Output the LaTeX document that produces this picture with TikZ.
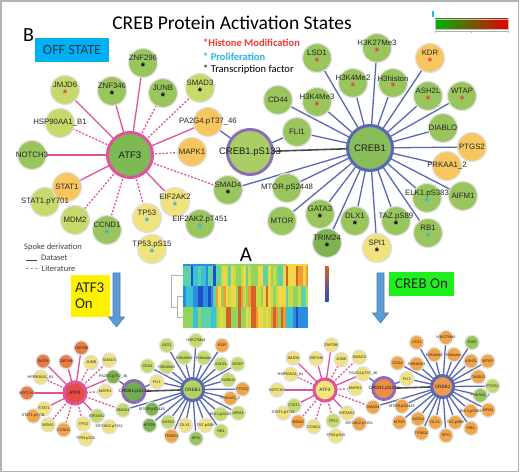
\documentclass[tikz,border=0pt]{standalone}
\usepackage{fontspec}
\setmainfont{Liberation Sans}
\newfontfamily\cali{Carlito}
\usetikzlibrary{backgrounds}
\pgfdeclarelayer{foreground}
\pgfsetlayers{background,main,foreground}

\definecolor{cg}{HTML}{98C55C}
\definecolor{cG}{HTML}{7FB34F}
\definecolor{cl}{HTML}{C6DA6B}
\definecolor{cy}{HTML}{F0E27C}
\definecolor{co}{HTML}{F7C65E}
\definecolor{cq}{HTML}{F2A548}
\definecolor{cr}{HTML}{EC7A45}
\definecolor{hatfT}{HTML}{7DB955}
\definecolor{hatfL}{HTML}{E54B45}
\definecolor{hatfR}{HTML}{F3E77A}
\definecolor{hpsT}{HTML}{A9CF64}
\definecolor{hpsL}{HTML}{6EAE4F}
\definecolor{hpsR}{HTML}{EE8E46}
\definecolor{hcrT}{HTML}{88BD59}
\definecolor{hcrL}{HTML}{B4D263}
\definecolor{hcrR}{HTML}{EE9A4E}
\definecolor{atfpink}{HTML}{E0529A}
\definecolor{crebblue}{HTML}{5868B4}
\definecolor{pspurple}{HTML}{8E6CBC}
\definecolor{offblue}{HTML}{00B0F0}
\definecolor{offtext}{HTML}{1F3864}
\definecolor{arrowblue}{HTML}{5B9BD5}
\definecolor{histred}{HTML}{F03A3A}
\definecolor{prolcyan}{HTML}{22B8EA}
\definecolor{crebgreen}{HTML}{1EF01E}
\definecolor{hm1}{HTML}{1F4FC8}
\definecolor{hm2}{HTML}{2B8CE0}
\definecolor{hm3}{HTML}{38C2D6}
\definecolor{hm4}{HTML}{5ED2A6}
\definecolor{hm5}{HTML}{94D45C}
\definecolor{hm6}{HTML}{C6DA4A}
\definecolor{hm7}{HTML}{F0D648}
\definecolor{hm8}{HTML}{EC9E34}
\definecolor{hm9}{HTML}{D4622A}

\tikzstyle{prot} = [circle, draw=black!12, line width=1.2pt, minimum size=29pt, inner sep=0pt]
\tikzstyle{protname} = [inner sep=0pt, align=center, text=black!85, font=\fontsize{7.8}{8}\selectfont]
\tikzstyle{hub} = [circle, line width=3pt, minimum size=45pt, inner sep=0pt]
\tikzstyle{hubname} = [inner sep=0pt, text=black!90, font=\fontsize{9.5}{10}\selectfont]
\tikzstyle{atfE} = [draw=atfpink, line width=1.3pt]
\tikzstyle{atfD} = [atfE, dash pattern=on 2pt off 1.6pt]
\tikzstyle{crebE} = [draw=crebblue, line width=1.3pt]
\tikzstyle{coreE} = [draw=black!70, line width=1.6pt]
\tikzstyle{keytext} = [anchor=west, inner sep=0pt, font=\cali\fontsize{10.5}{11}\selectfont]
\tikzstyle{spokekey} = [anchor=west, inner sep=0pt, text=black!75, font=\cali\fontsize{8.5}{9}\selectfont]
\tikzstyle{onbox} = [inner sep=0pt, text=black!85, font=\cali\fontsize{15}{16}\selectfont]
\tikzstyle{bigarrow} = [fill=arrowblue, draw=arrowblue!80!black, line width=0.6pt]

\newcommand{\mkstar}[1]{\raisebox{-2pt}{\textcolor{#1}{\fontsize{11}{11}\selectfont\bfseries*}}}
\newcommand{\mkr}{\mkstar{histred}}
\newcommand{\mkb}{\mkstar{prolcyan}}
\newcommand{\mkk}{\mkstar{black}}
\newcommand{\protlab}[2]{\ifnum\netcopy=1 \ifx n#2#1\else#1\\[-0.5pt]\csname mk#2\endcsname\fi\else#1\fi}
\newcommand{\prot}[8]{%
  \edef\pcol{\ifcase\netcopy\or#6\or#7\or#8\fi}%
  \node (\pfx#1) [prot, fill=\pcol] at (#2,#3) {};
  \begin{pgfonlayer}{foreground}
    \node (\pfx#1t) [protname] at (\pfx#1) {\protlab{#4}{#5}};
  \end{pgfonlayer}}
\newcommand{\hub}[8]{%
  \edef\pcol{\ifcase\netcopy\or#6\or#7\or#8\fi}%
  \node (\pfx#1) [hub, draw=#5, fill=\pcol] at (#2,#3) {};
  \begin{pgfonlayer}{foreground}
    \node (\pfx#1t) [hubname] at (\pfx#1) {#4};
  \end{pgfonlayer}}
\newcommand{\spoke}[3]{\draw [#1] (\pfx#2.center) -- (\pfx#3.center);}

\newcommand{\spokenet}[2]{%
  \def\pfx{#1}\def\netcopy{#2}%
  % hubs
  \hub{atf}{130}{155}{ATF3}{atfpink}{hatfT}{hatfL}{hatfR}
  \hub{ps}{250}{152}{CREB1.pS133}{pspurple}{hpsT}{hpsL}{hpsR}
  \hub{creb}{370}{148}{CREB1}{crebblue}{hcrT}{hcrL}{hcrR}
  % ATF3 side
  \prot{jmjd}{65}{90}{JMJD6}{r}{cl}{cr}{cy}
  \prot{znfa}{112}{91}{ZNF346}{k}{cg}{cr}{cy}
  \prot{znfb}{143}{63}{ZNF296}{k}{cg}{cr}{cy}
  \prot{junb}{163}{93}{JUNB}{k}{cg}{cy}{cy}
  \prot{smadc}{200}{88}{SMAD3}{k}{cl}{cy}{cy}
  \prot{hsp}{60}{123}{HSP90AA1\_B1}{n}{cl}{cy}{cy}
  \prot{notch}{32}{155}{NOTCH3}{n}{cg}{cr}{cy}
  \prot{pag}{208}{122}{PA2G4.pT37\_46}{n}{co}{cG}{cy}
  \prot{mapk}{192}{152}{MAPK1}{n}{co}{cy}{cy}
  \prot{statp}{45}{202}{STAT1.pY701}{n}{cl}{cq}{cy}
  \prot{stat}{67}{187}{STAT1}{n}{co}{cy}{cl}
  \prot{mdm}{75}{220}{MDM2}{n}{cl}{cy}{cq}
  \prot{ccnd}{107}{230}{CCND1}{b}{cg}{cq}{cy}
  \prot{tp}{147}{218}{TP53}{b}{cy}{cy}{cl}
  \prot{tpp}{152}{249}{TP53.pS15}{b}{cy}{cy}{cy}
  \prot{eif}{175}{202}{EIF2AK2}{b}{cy}{cl}{cy}
  \prot{eifp}{200}{224}{EIF2AK2.pT451}{b}{cg}{cy}{cq}
  \prot{smadd}{228}{190}{SMAD4}{k}{cg}{cl}{cq}
  % CREB1 side
  \prot{lsd}{317}{58}{LSD1}{r}{cg}{cl}{cq}
  \prot{hkt}{377}{48}{H3K27Me3}{r}{cg}{cl}{cq}
  \prot{kdr}{430}{58}{KDR}{r}{co}{cq}{cg}
  \prot{hkm}{353}{83}{H3K4Me2}{r}{cg}{cl}{cq}
  \prot{hhis}{393}{83}{H3histon}{r}{cg}{cl}{cq}
  \prot{ash}{428}{96}{ASH2L}{r}{cg}{cl}{cq}
  \prot{wtap}{462}{96}{WTAP}{r}{cg}{cl}{cq}
  \prot{cd}{278}{100}{CD44}{n}{cg}{cl}{cq}
  \prot{hkn}{317}{102}{H3K4Me3}{r}{cg}{cl}{cq}
  \prot{fli}{297}{132}{FLI1}{n}{cg}{cy}{cy}
  \prot{diab}{443}{128}{DIABLO}{n}{cg}{cl}{cq}
  \prot{ptgs}{472}{147}{PTGS2}{n}{co}{cq}{cl}
  \prot{prk}{447}{166}{PRKAA1\_2}{n}{co}{cq}{cg}
  \prot{aifm}{463}{196}{AIFM1}{n}{cg}{cl}{cq}
  \prot{elk}{427}{198}{ELK1.pS383}{b}{cg}{cl}{cq}
  \prot{rb}{428}{233}{RB1}{b}{cg}{cl}{cq}
  \prot{taz}{396}{221}{TAZ.pS89}{k}{cg}{cy}{cq}
  \prot{spi}{377}{248}{SPI1}{k}{cy}{cg}{cq}
  \prot{dlx}{355}{221}{DLX1}{k}{cg}{cy}{cq}
  \prot{trim}{327}{243}{TRIM24}{k}{cG}{cq}{cq}
  \prot{gata}{320}{214}{GATA3}{k}{cg}{cl}{cq}
  \prot{mtor}{282}{221}{MTOR}{n}{cg}{cG}{cq}
  \prot{mtorp}{287}{188}{MTOR.pS2448}{n}{cg}{cG}{cq}
  % spokes
  \begin{pgfonlayer}{background}
    \spoke{atfE}{atf}{jmjd}
    \spoke{atfE}{atf}{znfa}
    \spoke{atfE}{atf}{znfb}
    \spoke{atfD}{atf}{junb}
    \spoke{atfD}{atf}{smadc}
    \spoke{atfD}{atf}{hsp}
    \spoke{atfE}{atf}{notch}
    \spoke{atfE}{atf}{pag}
    \spoke{atfD}{atf}{mapk}
    \spoke{atfE}{atf}{stat}
    \spoke{atfD}{stat}{statp}
    \spoke{atfD}{atf}{mdm}
    \spoke{atfD}{atf}{ccnd}
    \spoke{atfD}{atf}{tp}
    \spoke{atfE}{atf}{eif}
    \spoke{atfD}{atf}{smadd}
    \spoke{crebE}{pag}{ps}
    \spoke{crebE}{fli}{ps}
    \spoke{coreE}{ps}{creb}
    \spoke{crebE}{creb}{smadd}
    \spoke{crebE}{creb}{lsd}
    \spoke{crebE}{creb}{hkt}
    \spoke{crebE}{creb}{kdr}
    \spoke{crebE}{creb}{hkm}
    \spoke{crebE}{creb}{hhis}
    \spoke{crebE}{creb}{ash}
    \spoke{crebE}{creb}{wtap}
    \spoke{crebE}{creb}{cd}
    \spoke{crebE}{creb}{hkn}
    \spoke{crebE}{creb}{fli}
    \spoke{crebE}{creb}{diab}
    \spoke{crebE}{creb}{ptgs}
    \spoke{crebE}{creb}{prk}
    \spoke{crebE}{creb}{aifm}
    \spoke{crebE}{creb}{elk}
    \spoke{crebE}{creb}{rb}
    \spoke{crebE}{creb}{taz}
    \spoke{crebE}{creb}{spi}
    \spoke{crebE}{creb}{dlx}
    \spoke{crebE}{creb}{trim}
    \spoke{crebE}{creb}{gata}
    \spoke{crebE}{creb}{mtor}
    \spoke{crebE}{creb}{mtorp}
  \end{pgfonlayer}}

\begin{document}
\begin{tikzpicture}[x=1pt, y=-1pt]
  \useasboundingbox (0,0) rectangle (520,473);
  \begin{pgfonlayer}{background}
    \fill [white] (0,0) rectangle (520,473);
  \end{pgfonlayer}
  \draw [gray!60, line width=1.5pt] (1,1) rectangle (518.5,471.5);

  % Headings and legend
  \node (title) [inner sep=0pt, font=\cali\fontsize{19.5}{20}\selectfont] at (232,23) {CREB Protein Activation States};
  \node (lblB) [inner sep=0pt, font=\cali\fontsize{20}{20}\selectfont] at (28.5,35.5) {B};
  \node (off) [fill=offblue, minimum width=74pt, minimum height=24pt, inner sep=0pt, text=offtext, font=\cali\fontsize{14}{14}\selectfont] at (72,50) {OFF STATE};
  \node (keyH) [keytext, text=histred] at (203,43) {\bfseries*Histone Modification};
  \node (keyP) [keytext, text=prolcyan] at (203,56.5) {\bfseries* Proliferation};
  \node (keyT) [keytext] at (203,70) {* Transcription factor};

  % colour scale
  \shade [left color=green!70!black, middle color=yellow!90!orange, right color=red!90!black] (435,19) rectangle (508,29);
  \draw [gray!50, line width=0.4pt] (435,19) rectangle (508,29);
  \draw [gray!60, line width=0.4pt] (435,31) -- (508,31) (435,31) -- (435,33) (471.5,31) -- (471.5,33) (508,31) -- (508,33);
  \draw [prolcyan, line width=1.2pt] (433,11) -- (433,17);

  % networks
  \spokenet{t}{1}
  \begin{scope}[shift={(75,393)}, scale=0.49, transform shape, shift={(-130,-155)}]
    \spokenet{l}{2}
  \end{scope}
  \begin{scope}[shift={(325,390)}, scale=0.49, transform shape, shift={(-130,-155)}]
    \spokenet{r}{3}
  \end{scope}

  % spoke derivation key
  \node (keyS) [spokekey] at (24,247) {Spoke derivation};
  \node (keyD) [spokekey] at (26,258) {\rule[-0.3pt]{11pt}{0.5pt}\ \ Dataset};
  \node (keyL) [spokekey] at (26,268.5) {- - -\ \ Literature};

  % heatmap
  \node (lblA) [inner sep=0pt, font=\cali\fontsize{21}{21}\selectfont] at (246,255) {A};
  \pgfmathsetseed{11}
  \foreach \row/\aL/\aH/\bL/\bH/\cL/\cH in {0/1/4/4/7/7/9, 1/1/4/5/9/4/6, 2/3/5/5/9/1/3}{
    \foreach \col in {0,...,49}{
      \ifnum\col<13 \pgfmathrandominteger{\hk}{\aL}{\aH}
      \else\ifnum\col<41 \pgfmathrandominteger{\hk}{\bL}{\bH}
      \else \pgfmathrandominteger{\hk}{\cL}{\cH}\fi\fi
      \fill [hm\hk] (183+2.5*\col,265+21*\row) rectangle +(2.6,21);
    }
  }
  \draw [hm2, line width=1.2pt] (183,265) -- (215.5,265);
  \draw [hm5, line width=1.2pt] (215.5,265) -- (285.5,265);
  \draw [hm7, line width=1.2pt] (285.5,265) -- (308,265);
  \draw [gray!60, line width=0.5pt] (183,296.5) -- (177,296.5) -- (177,317.5) -- (183,317.5)
    (177,307) -- (171,307) -- (171,275.5) -- (183,275.5);
  \shade [top color=hm9, middle color=hm6, bottom color=hm1] (325,267) rectangle (328.5,302);

  % state boxes and arrows
  \node (atfon) [onbox, fill=yellow, text width=31pt, minimum height=42pt, inner xsep=4pt, align=left] at (90.5,296) {ATF3\\On};
  \node (crebon) [onbox, fill=crebgreen, minimum width=65pt, minimum height=24pt] at (421.5,284) {CREB On};
  \filldraw [bigarrow] (113,273) -- (120,273) -- (120,317) -- (124.5,317) -- (116.5,327) -- (108.5,317) -- (113,317) -- cycle;
  \filldraw [bigarrow] (377,273) -- (384,273) -- (384,313) -- (388.5,313) -- (380.5,323) -- (372.5,313) -- (377,313) -- cycle;
\end{tikzpicture}
\end{document}
